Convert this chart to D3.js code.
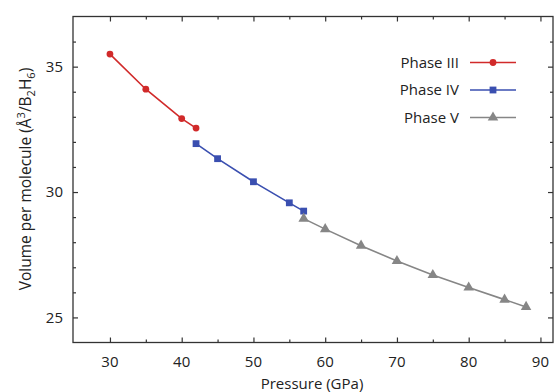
<!DOCTYPE html>
<html>
<head>
<meta charset="utf-8">
<script src="https://cdn.jsdelivr.net/npm/d3@7"></script>
<style>
  html, body { margin: 0; padding: 0; background: #fff; }
  svg { display: block; font-family: "Open Sans", sans-serif; }
</style>
</head>
<body>
<div id="chart"></div>
<script>
// --- data ---
const phase3P = [30, 35, 40, 42];
const phase3V = [35.5, 34.1, 32.93, 32.55];
const phase4P = [42, 45, 50, 55, 57];
const phase4V = [31.93, 31.33, 30.41, 29.57, 29.24];
const phase5P = [57, 60, 65, 70, 75, 80, 85, 88];
const phase5V = [28.94, 28.52, 27.86, 27.25, 26.69, 26.19, 25.71, 25.42];

const xTicks = [30, 40, 50, 60, 70, 80, 90];
const xMinor = [35, 45, 55, 65, 75, 85];
const yTicks = [25, 30, 35];
const yMinor = [26, 27, 28, 29, 31, 32, 33, 34, 36];

const series = [
  {name: "Phase III", p: phase3P, v: phase3V, color: "#d12a2a", marker: "circle"},
  {name: "Phase IV", p: phase4P, v: phase4V, color: "#3a4fb0", marker: "square"},
  {name: "Phase V", p: phase5P, v: phase5V, color: "#868686", marker: "triangle"}
];

const width = 555, height = 392;
const margin = {top: 16.5, right: 2, bottom: 49.5, left: 73};

const svg = d3.select("#chart").append("svg")
  .attr("width", width)
  .attr("height", height);

const x = d3.scaleLinear().domain([24.85, 91.75]).range([margin.left, width - margin.right]);
const y = d3.scaleLinear().domain([24, 37]).range([height - margin.bottom, margin.top]);

const axisColor = "#333";
const textColor = "#222";

// ticks (inward), on all four sides
function tickSet(axisFn, scale, values, size, transform) {
  svg.append("g")
    .attr("transform", transform)
    .call(axisFn(scale).tickValues(values).tickSize(size).tickFormat(""))
    .call(g => g.select(".domain").remove())
    .call(g => g.selectAll("line").attr("stroke", axisColor).attr("stroke-width", 1.2));
}
const x0 = margin.left, x1 = width - margin.right;
const y0 = height - margin.bottom, y1 = margin.top;

tickSet(d3.axisTop, x, xTicks, 5, `translate(0,${y0})`);
tickSet(d3.axisTop, x, xMinor, 3, `translate(0,${y0})`);
tickSet(d3.axisBottom, x, xTicks, 5, `translate(0,${y1})`);
tickSet(d3.axisBottom, x, xMinor, 3, `translate(0,${y1})`);
tickSet(d3.axisRight, y, yTicks, 5, `translate(${x0},0)`);
tickSet(d3.axisRight, y, yMinor, 3, `translate(${x0},0)`);
tickSet(d3.axisLeft, y, yTicks, 5, `translate(${x1},0)`);
tickSet(d3.axisLeft, y, yMinor, 3, `translate(${x1},0)`);

// frame
svg.append("rect")
  .attr("x", x0).attr("y", y1)
  .attr("width", x1 - x0).attr("height", y0 - y1)
  .attr("fill", "none")
  .attr("stroke", axisColor)
  .attr("stroke-width", 1.3);

// tick labels
svg.append("g").selectAll("text")
  .data(xTicks)
  .join("text")
  .attr("x", d => x(d))
  .attr("y", y0 + 24.5)
  .attr("text-anchor", "middle")
  .attr("font-size", 15)
  .attr("fill", textColor)
  .text(d => d);

svg.append("g").selectAll("text")
  .data(yTicks)
  .join("text")
  .attr("x", x0 - 10)
  .attr("y", d => y(d))
  .attr("dy", "0.36em")
  .attr("text-anchor", "end")
  .attr("font-size", 15)
  .attr("fill", textColor)
  .text(d => d);

// axis titles
svg.append("text")
  .attr("x", (x0 + x1) / 2 - 1)
  .attr("y", height - 3)
  .attr("text-anchor", "middle")
  .attr("font-size", 15)
  .attr("fill", textColor)
  .text("Pressure (GPa)");

const yTitle = svg.append("text")
  .attr("transform", `translate(31,179) rotate(-90)`)
  .attr("text-anchor", "middle")
  .attr("font-size", 15.5)
  .attr("fill", textColor);
yTitle.append("tspan").text("Volume per molecule (Å");
yTitle.append("tspan").attr("font-size", 11).attr("dy", -6).text("3");
yTitle.append("tspan").attr("dy", 6).text("/B");
yTitle.append("tspan").attr("font-size", 11).attr("dy", 4).text("2");
yTitle.append("tspan").attr("dy", -4).text("H");
yTitle.append("tspan").attr("font-size", 11).attr("dy", 4).text("6");
yTitle.append("tspan").attr("dy", -4).text(")");

// markers
function drawMarker(sel, type, color) {
  if (type === "circle") {
    sel.append("circle").attr("r", 3.4).attr("fill", color);
  } else if (type === "square") {
    sel.append("rect").attr("x", -3.4).attr("y", -3.4).attr("width", 6.8).attr("height", 6.8).attr("fill", color);
  } else {
    sel.append("path").attr("d", d3.symbol().type(d3.symbolTriangle).size(48)).attr("fill", color);
  }
}

const line = d3.line().x(d => x(d[0])).y(d => y(d[1]));

series.forEach(s => {
  const pts = s.p.map((p, i) => [p, s.v[i]]);
  svg.append("path")
    .datum(pts)
    .attr("fill", "none")
    .attr("stroke", s.color)
    .attr("stroke-width", 1.6)
    .attr("d", line);
  svg.append("g").selectAll("g")
    .data(pts)
    .join("g")
    .attr("transform", d => `translate(${x(d[0])},${y(d[1])})`)
    .each(function () { drawMarker(d3.select(this), s.marker, s.color); });
});

// legend
const legendRowsY = [62.5, 90, 117.5];
const legend = svg.append("g");
series.forEach((s, i) => {
  const row = legend.append("g").attr("transform", `translate(0,${legendRowsY[i]})`);
  row.append("text")
    .attr("x", 459)
    .attr("dy", "0.36em")
    .attr("text-anchor", "end")
    .attr("font-size", 15)
    .attr("fill", textColor)
    .text(s.name);
  row.append("line")
    .attr("x1", 470).attr("x2", 516)
    .attr("stroke", s.color)
    .attr("stroke-width", 1.6);
  const m = row.append("g").attr("transform", "translate(493,0)");
  drawMarker(m, s.marker, s.color);
});
</script>
</body>
</html>
